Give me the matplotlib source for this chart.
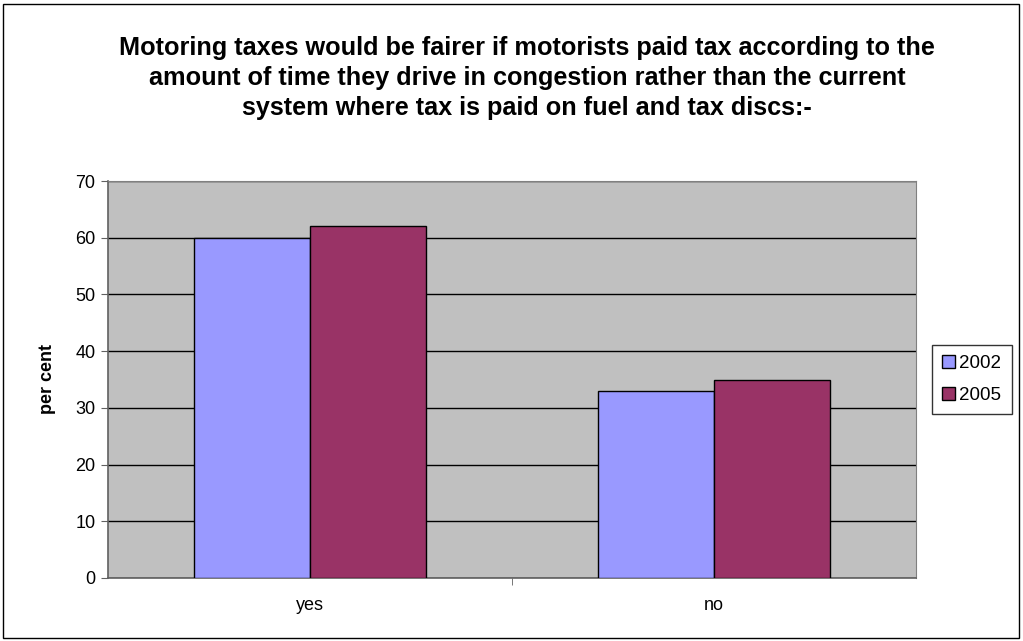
import numpy as np
import matplotlib
matplotlib.use("Agg")
import matplotlib.pyplot as plt
from matplotlib.patches import Rectangle

plt.rcParams['font.family'] = ['Liberation Sans', 'DejaVu Sans']

categories = ["yes", "no"]
years = ["2002", "2005"]
values_2002 = [60, 33]
values_2005 = [62, 35]
colors = ["#9999FF", "#993366"]

title = ("Motoring taxes would be fairer if motorists paid tax according to the\n"
         "amount of time they drive in congestion rather than the current\n"
         "system where tax is paid on fuel and tax discs:-")

W, H = 1023, 641
fig = plt.figure(figsize=(W / 100, H / 100), dpi=100)
fig.patch.set_facecolor("white")

# outer chart border
fig.patches.append(Rectangle((3 / W, 3 / H), (W - 7) / W, (H - 7) / H,
                             transform=fig.transFigure, fill=False,
                             edgecolor="black", linewidth=1))

left, right, top, bottom = 108, 916, 181, 578
ax = fig.add_axes([left / W, 1 - bottom / H, (right - left) / W, (bottom - top) / H])
ax.set_facecolor("#C0C0C0")

x = np.arange(len(categories))
bw = 0.287
ax.bar(x - bw / 2, values_2002, bw, color=colors[0], edgecolor="black",
       linewidth=1, label=years[0], zorder=3)
ax.bar(x + bw / 2, values_2005, bw, color=colors[1], edgecolor="black",
       linewidth=1, label=years[1], zorder=3)

ax.set_xlim(-0.5, 1.5)
ax.set_ylim(0, 70)
ax.set_yticks(range(0, 71, 10))
ax.yaxis.grid(True, color="black", linewidth=1, zorder=1)
ax.set_axisbelow(True)

ax.set_xticks([0.5], minor=True)
ax.set_xticks(x)
ax.set_xticklabels(categories, fontsize=13)
ax.tick_params(axis="x", which="major", length=0, pad=14)
ax.tick_params(axis="x", which="minor", length=5, direction="out", color="#606060")
ax.tick_params(axis="y", length=5, direction="out", color="#606060", labelsize=13, pad=4)

for side in ["top", "right"]:
    ax.spines[side].set_color("#808080")
for side in ["left", "bottom"]:
    ax.spines[side].set_color("#606060")
    ax.spines[side].set_linewidth(1.2)

ax.set_ylabel("per cent", fontsize=13, fontweight="bold", labelpad=14)

fig.text(527 / W, 1 - 78 / H, title, ha="center", va="center",
         fontsize=18.2, fontweight="bold", linespacing=1.3)

leg = ax.legend(loc="center left", bbox_to_anchor=(1.02, 0.5), fontsize=13.5,
                frameon=True, fancybox=False, edgecolor="black",
                handlelength=0.65, handleheight=0.65, handletextpad=0.25,
                borderpad=0.55, labelspacing=0.8, borderaxespad=0)
leg.get_frame().set_linewidth(1)

fig.savefig("out.png", dpi=100)
